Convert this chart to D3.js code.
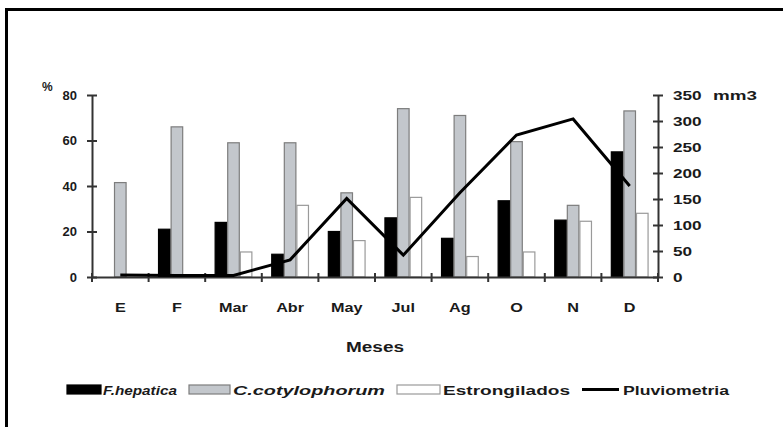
<!DOCTYPE html>
<html><head><meta charset="utf-8">
<script src="https://cdn.jsdelivr.net/npm/d3@7"></script>
<style>body{margin:0;background:#fff}svg{display:block}text{font-family:"Liberation Sans",Arial,sans-serif;font-weight:bold;fill:#1a1a1a}</style>
</head><body>
<svg id="c" width="783" height="427"></svg>
<script>
const months = ["E","F","Mar","Abr","May","Jul","Ag","O","N","D"];
const fHepatica = [0,21,24,10,20,26,17,33.5,25,55];
const cCotylophorum = [41.5,66,59,59,37,74,71,59.5,31.5,73];
const estrongilados = [0,0,11,31.5,16,35,9,11,24.5,28];
const pluviometria = [4,3,3,33,151,42,162,273,304,175];
const leftTicks = [0,20,40,60,80];
const rightTicks = [0,50,100,150,200,250,300,350];
const seriesNames = ["F.hepatica","C.cotylophorum","Estrongilados","Pluviometria"];

const svg = d3.select("#c");
// frame
svg.append("line").attr("x1",5).attr("x2",783).attr("y1",9.5).attr("y2",9.5).attr("stroke","#000").attr("stroke-width",3);
svg.append("line").attr("x1",6.5).attr("x2",6.5).attr("y1",8).attr("y2",427).attr("stroke","#000").attr("stroke-width",3);

const x0 = 92, x1 = 658, yb = 277, yt = 95;
const x = d3.scaleBand().domain(months).range([x0,x1]).paddingInner(0).paddingOuter(0);
const yL = d3.scaleLinear().domain([0,80]).range([yb,yt]);
const yR = d3.scaleLinear().domain([0,350]).range([yb,yt]);
const bw = x.bandwidth()/4.5;
const sub = d3.scaleBand().domain([0,1,2]).range([(x.bandwidth()-3*bw)/2,(x.bandwidth()+3*bw)/2]);

function stretch(sel, f){
  sel.each(function(){
    const w = this.getComputedTextLength();
    d3.select(this).attr("textLength", w*f).attr("lengthAdjust","spacingAndGlyphs");
  });
}

const styles = [
  {fill:"#000",stroke:"#000"},
  {fill:"#c3c7cc",stroke:"#7d7d7d"},
  {fill:"#fff",stroke:"#9a9a9a"}
];
[fHepatica,cCotylophorum,estrongilados].forEach((arr,si)=>{
  svg.append("g").selectAll("rect").data(arr.map((v,i)=>({m:months[i],v})).filter(d=>d.v>0)).join("rect")
    .attr("x",d=>x(d.m)+sub(si)+0.5)
    .attr("width",sub.bandwidth()-1)
    .attr("y",d=>yL(d.v))
    .attr("height",d=>yb-yL(d.v))
    .attr("fill",styles[si].fill).attr("stroke",styles[si].stroke).attr("stroke-width",1.2);
});

// axes
const axColor = "#333";
const gL = svg.append("g").attr("transform",`translate(${x0},0)`)
  .call(d3.axisLeft(yL).tickValues(leftTicks).tickSize(5).tickSizeOuter(0));
const gR = svg.append("g").attr("transform",`translate(${x1},0)`)
  .call(d3.axisRight(yR).tickValues(rightTicks).tickSize(5).tickSizeOuter(0));
const gB = svg.append("g").attr("transform",`translate(0,${yb})`)
  .call(d3.axisBottom(x).tickValues([]).tickSizeOuter(0));
[gL,gR,gB].forEach(g=>{
  g.attr("font-family",null).attr("font-size",null);
  g.select(".domain").attr("stroke",axColor).attr("stroke-width",2);
  g.selectAll(".tick line").attr("stroke",axColor).attr("stroke-width",2);
  g.selectAll("text").attr("fill","#1a1a1a").style("font-size","13px");
});
gL.selectAll(".tick line").attr("x1",5).attr("x2",-5);
gL.selectAll(".tick text").attr("x",-15);
gR.selectAll(".tick line").attr("x1",-5).attr("x2",5);
gR.selectAll(".tick text").attr("x",15);
stretch(gR.selectAll(".tick text"),1.32);
// category boundary ticks
const bounds = months.map(m=>x(m)).concat([x1]);
svg.append("g").selectAll("line").data(bounds).join("line")
  .attr("x1",d=>d).attr("x2",d=>d).attr("y1",yb-4).attr("y2",yb+5)
  .attr("stroke",axColor).attr("stroke-width",2);
// month labels
const ml = svg.append("g").selectAll("text").data(months).join("text")
  .attr("x",d=>x(d)+x.bandwidth()/2).attr("y",312).attr("text-anchor","middle")
  .style("font-size","13.5px").text(d=>d);
stretch(ml,1.2);

// line
const line = d3.line().x((d,i)=>x(months[i])+x.bandwidth()/2).y(d=>yR(d));
svg.append("path").datum(pluviometria).attr("d",line).attr("fill","none").attr("stroke","#000").attr("stroke-width",3).attr("stroke-linejoin","miter");

// axis titles
svg.append("text").attr("x",42).attr("y",91).style("font-size","12px").text("%");
svg.append("text").attr("x",713).attr("y",100).style("font-size","13px")
  .attr("textLength",44).attr("lengthAdjust","spacingAndGlyphs").text("mm3");
svg.append("text").attr("x",(x0+x1)/2).attr("y",352).attr("text-anchor","middle").style("font-size","14px")
  .attr("textLength",58).attr("lengthAdjust","spacingAndGlyphs").text("Meses");

// legend
const lg = svg.append("g");
const items = [
  {sx:67,sw:34,tx:103,tw:74,type:0},
  {sx:189,sw:41,tx:233,tw:152,type:1},
  {sx:397,sw:43,tx:443,tw:127,type:2},
  {sx:582,sw:37,tx:623,tw:106,type:3}
];
items.forEach((it,i)=>{
  if(it.type<3){
    lg.append("rect").attr("x",it.sx).attr("y",385).attr("width",it.sw).attr("height",9)
      .attr("fill",styles[it.type].fill).attr("stroke",styles[it.type].stroke).attr("stroke-width",1.2);
  } else {
    lg.append("line").attr("x1",it.sx).attr("x2",it.sx+it.sw).attr("y1",389.5).attr("y2",389.5).attr("stroke","#000").attr("stroke-width",3);
  }
  lg.append("text").attr("x",it.tx).attr("y",394.5).style("font-size","13px")
    .style("font-style",i<2?"italic":"normal")
    .attr("textLength",it.tw).attr("lengthAdjust","spacingAndGlyphs").text(seriesNames[i]);
});
</script>
</body></html>
